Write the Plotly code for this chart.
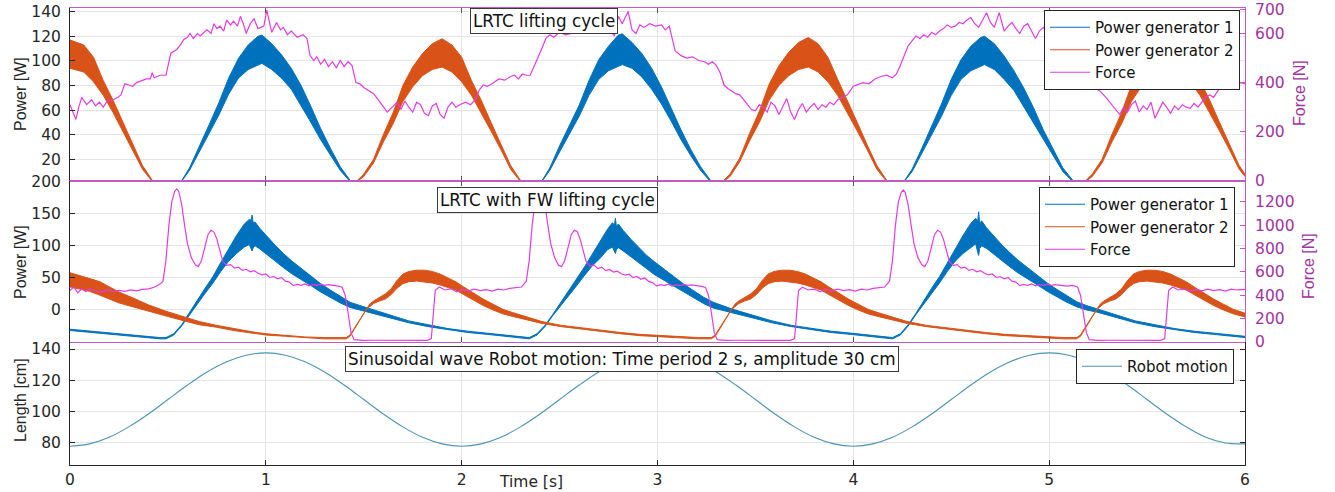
import plotly.graph_objects as go

# ---------------- data ----------------
# Top panel "LRTC lifting cycle": power bands (t [s], upper W, lower W)
top_gen1 = [
    (0.00, 0, 0),
    (0.56, 0, 0), (0.61, 13, 11), (0.66, 30, 26), (0.71, 48, 41), (0.76, 66, 56), (0.81, 86, 73),
    (0.86, 102, 86), (0.91, 113, 93), (0.96, 120, 97), (0.98, 121, 98), (1.03, 114, 93), (1.08, 105, 86),
    (1.13, 94, 77), (1.18, 80, 64), (1.23, 63, 50), (1.28, 45, 36), (1.33, 29, 23), (1.38, 14, 11),
    (1.43, 3, 2), (1.45, 0, 0),
    (2.40, 0, 0), (2.45, 13, 11), (2.50, 31, 26), (2.55, 47, 40), (2.60, 64, 55), (2.65, 84, 72),
    (2.70, 101, 85), (2.75, 112, 92), (2.80, 121, 96), (2.82, 122, 97), (2.87, 115, 94), (2.92, 106, 87),
    (2.97, 94, 77), (3.02, 79, 65), (3.07, 61, 51), (3.12, 44, 36), (3.17, 28, 23), (3.22, 14, 11),
    (3.27, 3, 2), (3.29, 0, 0),
    (4.25, 0, 0), (4.30, 12, 10), (4.35, 29, 25), (4.40, 47, 40), (4.45, 65, 55), (4.50, 85, 72),
    (4.55, 101, 85), (4.60, 112, 92), (4.65, 119, 96), (4.67, 120, 97), (4.72, 114, 93), (4.77, 104, 85),
    (4.82, 92, 76), (4.87, 78, 63), (4.92, 62, 50), (4.97, 44, 36), (5.02, 28, 23), (5.07, 13, 10),
    (5.12, 3, 2), (5.14, 0, 0),
    (6.00, 0, 0),
]
top_gen2 = [
    (0.00, 117, 94), (0.07, 113, 91), (0.12, 103, 83), (0.17, 84, 72), (0.22, 68, 58), (0.27, 50, 43),
    (0.32, 32, 28), (0.37, 15, 12), (0.42, 3, 2), (0.44, 0, 0),
    (1.45, 0, 0), (1.50, 8, 6), (1.55, 20, 17), (1.60, 40, 34), (1.65, 58, 49), (1.70, 80, 67),
    (1.75, 95, 79), (1.80, 106, 88), (1.85, 114, 93), (1.90, 118, 95), (1.95, 113, 91), (2.00, 103, 83),
    (2.05, 84, 72), (2.10, 68, 58), (2.15, 50, 43), (2.20, 32, 28), (2.25, 15, 12), (2.30, 3, 2),
    (2.32, 0, 0),
    (3.32, 0, 0), (3.37, 8, 6), (3.42, 21, 18), (3.47, 41, 35), (3.52, 59, 50), (3.57, 81, 68),
    (3.62, 96, 80), (3.67, 107, 88), (3.72, 115, 93), (3.77, 119, 95), (3.82, 114, 91), (3.87, 103, 83),
    (3.92, 85, 72), (3.97, 68, 58), (4.02, 50, 43), (4.07, 32, 28), (4.12, 15, 12), (4.17, 3, 2),
    (4.19, 0, 0),
    (5.17, 0, 0), (5.22, 8, 6), (5.27, 20, 17), (5.32, 40, 34), (5.37, 58, 49), (5.42, 80, 67),
    (5.47, 95, 79), (5.52, 106, 88), (5.57, 114, 93), (5.62, 118, 95), (5.67, 113, 91), (5.72, 103, 83),
    (5.77, 84, 72), (5.82, 68, 58), (5.87, 50, 43), (5.92, 32, 28), (5.97, 15, 12), (6.00, 8, 6),
]
# Top panel force (t [s], N)
top_force = [
    (0.00, 311), (0.015, 281), (0.03, 251), (0.045, 301), (0.06, 341), (0.085, 311), (0.11, 331),
    (0.13, 306), (0.15, 321), (0.17, 301), (0.19, 326), (0.22, 331), (0.245, 341), (0.26, 351),
    (0.28, 396), (0.30, 391), (0.32, 386), (0.34, 401), (0.36, 406), (0.39, 416), (0.41, 416),
    (0.42, 441), (0.43, 421), (0.46, 431), (0.49, 431), (0.50, 466), (0.515, 521), (0.545, 536),
    (0.565, 556), (0.58, 576), (0.60, 586), (0.613, 601), (0.63, 581), (0.65, 601), (0.665, 591),
    (0.685, 606), (0.70, 616), (0.72, 601), (0.735, 641), (0.75, 621), (0.766, 631), (0.785, 611),
    (0.80, 656), (0.82, 636), (0.835, 651), (0.855, 631), (0.87, 671), (0.885, 641), (0.90, 601),
    (0.92, 641), (0.94, 661), (0.96, 621), (0.99, 631), (1.005, 696), (1.03, 606), (1.055, 646),
    (1.075, 616), (1.09, 626), (1.11, 596), (1.13, 611), (1.16, 586), (1.19, 596), (1.21, 581),
    (1.226, 511), (1.245, 491), (1.26, 506), (1.28, 476), (1.30, 496), (1.32, 466), (1.34, 486),
    (1.36, 461), (1.38, 491), (1.40, 466), (1.42, 486), (1.44, 471), (1.46, 401), (1.48, 396),
    (1.50, 381), (1.53, 366), (1.55, 356), (1.57, 336), (1.60, 301), (1.62, 281), (1.645, 301),
    (1.67, 321), (1.69, 291), (1.71, 326), (1.73, 301), (1.75, 281), (1.77, 321), (1.79, 311),
    (1.81, 276), (1.83, 266), (1.85, 306), (1.87, 316), (1.89, 271), (1.91, 256), (1.93, 301),
    (1.95, 321), (1.97, 301), (1.99, 311), (2.02, 321), (2.045, 311), (2.07, 331), (2.09, 371),
    (2.11, 391), (2.13, 386), (2.155, 396), (2.175, 406), (2.19, 416), (2.22, 411), (2.25, 426),
    (2.27, 431), (2.29, 416), (2.31, 436), (2.33, 431), (2.35, 431), (2.37, 466), (2.39, 501),
    (2.41, 541), (2.43, 581), (2.45, 596), (2.47, 586), (2.50, 606), (2.53, 596), (2.56, 601),
    (2.59, 626), (2.62, 621), (2.64, 641), (2.66, 631), (2.68, 651), (2.70, 661), (2.72, 646),
    (2.74, 686), (2.76, 611), (2.78, 591), (2.80, 671), (2.82, 641), (2.85, 691), (2.87, 616),
    (2.89, 601), (2.91, 636), (2.93, 626), (2.96, 641), (2.99, 631), (3.02, 636), (3.04, 616),
    (3.06, 631), (3.09, 531), (3.12, 511), (3.15, 501), (3.18, 506), (3.21, 491), (3.24, 486),
    (3.26, 476), (3.28, 486), (3.30, 471), (3.32, 441), (3.34, 391), (3.36, 376), (3.38, 366),
    (3.40, 356), (3.42, 351), (3.44, 331), (3.46, 311), (3.48, 291), (3.50, 286), (3.52, 311),
    (3.54, 301), (3.56, 281), (3.58, 321), (3.60, 306), (3.62, 271), (3.64, 306), (3.66, 336),
    (3.68, 281), (3.70, 251), (3.72, 291), (3.74, 316), (3.76, 281), (3.78, 301), (3.80, 316),
    (3.82, 291), (3.84, 311), (3.86, 301), (3.88, 321), (3.90, 311), (3.92, 331), (3.95, 341),
    (3.97, 351), (4.00, 386), (4.02, 391), (4.05, 401), (4.08, 396), (4.11, 416), (4.14, 426),
    (4.17, 431), (4.20, 421), (4.22, 436), (4.24, 471), (4.26, 511), (4.28, 551), (4.30, 571),
    (4.32, 591), (4.34, 581), (4.36, 596), (4.38, 586), (4.40, 606), (4.42, 596), (4.44, 611),
    (4.46, 621), (4.48, 636), (4.50, 626), (4.52, 631), (4.54, 646), (4.56, 641), (4.58, 656),
    (4.60, 666), (4.62, 641), (4.64, 626), (4.66, 656), (4.68, 686), (4.70, 646), (4.72, 626),
    (4.745, 686), (4.77, 611), (4.79, 631), (4.81, 646), (4.83, 621), (4.85, 601), (4.87, 631),
    (4.89, 641), (4.91, 611), (4.93, 581), (4.95, 611), (4.97, 626), (5.00, 601), (5.03, 541),
    (5.06, 511), (5.09, 471), (5.12, 461), (5.15, 456), (5.18, 431), (5.21, 391), (5.24, 376),
    (5.26, 366), (5.29, 341), (5.32, 311), (5.34, 291), (5.36, 271), (5.38, 301), (5.40, 281),
    (5.42, 311), (5.44, 326), (5.46, 281), (5.48, 306), (5.50, 291), (5.52, 321), (5.54, 256),
    (5.56, 291), (5.58, 321), (5.60, 301), (5.62, 276), (5.64, 306), (5.66, 291), (5.68, 311),
    (5.70, 301), (5.72, 296), (5.74, 316), (5.76, 301), (5.78, 321), (5.80, 341), (5.82, 351),
    (5.84, 341), (5.86, 366), (5.88, 386), (5.90, 391), (5.92, 381), (5.94, 396), (5.96, 391),
    (5.98, 401), (6.00, 396),
]

# Middle panel "LRTC with FW lifting cycle": power bands (t, upper, lower)
mid_gen1 = [
    (0.00, -30, -32), (0.10, -33, -35), (0.20, -36, -38), (0.30, -39, -41), (0.40, -41.5, -43.5),
    (0.46, -43, -45),
    (0.49, -43, -45), (0.53, -37, -39), (0.57, -23, -25), (0.61, -5, -7), (0.65, 15, 9), (0.69, 34, 26),
    (0.73, 52, 42), (0.77, 74, 60), (0.81, 96, 76), (0.85, 116, 88), (0.89, 134, 98), (0.915, 141, 102),
    (0.925, 140, 96), (0.93, 148, 92), (0.935, 136, 97), (0.945, 137, 100), (0.97, 127, 95),
    (1.01, 113, 85), (1.05, 100, 76), (1.09, 88, 66), (1.13, 77, 57), (1.18, 65, 48), (1.23, 53, 38),
    (1.28, 41, 28), (1.33, 31, 19), (1.38, 21, 11), (1.43, 12, 4), (1.48, 7, 0), (1.53, 2, -3),
    (1.63, -7, -11), (1.73, -17, -20), (1.83, -23, -26), (1.93, -29, -31), (2.03, -33, -35),
    (2.13, -36, -38), (2.23, -39, -41), (2.33, -42, -44),
    (2.345, -43, -45), (2.385, -37, -39), (2.425, -24, -26), (2.465, -7, -9), (2.505, 11, 6),
    (2.545, 29, 22), (2.585, 46, 37), (2.625, 66, 53), (2.665, 86, 68), (2.705, 106, 80),
    (2.745, 126, 94), (2.77, 136, 98), (2.78, 132, 92), (2.785, 143, 88), (2.79, 130, 94),
    (2.80, 134, 97), (2.825, 124, 92), (2.865, 110, 83), (2.905, 97, 74), (2.945, 85, 64),
    (2.985, 75, 55), (3.035, 63, 46), (3.085, 51, 37), (3.135, 40, 27), (3.185, 30, 18),
    (3.235, 20, 10), (3.285, 12, 3), (3.335, 6, -1), (3.385, 1, -4), (3.485, -8, -12),
    (3.585, -17, -20), (3.685, -24, -26), (3.785, -29, -31), (3.885, -33, -35), (3.985, -36, -38),
    (4.085, -39, -41), (4.185, -42, -44),
    (4.20, -43, -45), (4.24, -37, -39), (4.28, -23, -25), (4.32, -5, -7), (4.36, 15, 9), (4.40, 34, 26),
    (4.44, 52, 42), (4.48, 74, 60), (4.52, 96, 76), (4.56, 116, 88), (4.60, 135, 98), (4.625, 143, 103),
    (4.635, 138, 90), (4.64, 153, 85), (4.645, 134, 96), (4.655, 139, 100), (4.68, 128, 96),
    (4.72, 114, 86), (4.76, 101, 77), (4.80, 89, 67), (4.84, 78, 58), (4.89, 66, 49), (4.94, 54, 39),
    (4.99, 42, 29), (5.04, 32, 20), (5.09, 22, 12), (5.14, 13, 5), (5.19, 7, 0), (5.24, 2, -3),
    (5.34, -7, -11), (5.44, -17, -20), (5.54, -23, -26), (5.64, -29, -31), (5.74, -33, -35),
    (5.84, -36, -38), (5.94, -39, -41), (6.00, -41, -43),
]
mid_gen2 = [
    (0.00, 58, 36), (0.05, 54, 33), (0.10, 49, 29), (0.153, 44, 23), (0.20, 36, 17), (0.25, 28, 11),
    (0.32, 19, 5), (0.40, 8, -2), (0.49, -2, -10), (0.57, -10, -16), (0.66, -18, -23), (0.75, -24, -27),
    (0.835, -29, -32), (0.93, -34, -36), (1.00, -37, -39), (1.10, -40, -41), (1.20, -42, -43),
    (1.30, -43, -45),
    (1.41, -43, -45), (1.43, -39, -41), (1.45, -29, -31), (1.47, -19, -21), (1.49, -9, -11), (1.51, 1, -1),
    (1.53, 9, 5), (1.55, 14, 10), (1.58, 20, 14), (1.61, 25, 17), (1.64, 33, 24), (1.67, 46, 34),
    (1.70, 56, 41), (1.73, 60, 44), (1.77, 62, 45), (1.81, 62, 44), (1.85, 60, 42), (1.89, 56, 39),
    (1.93, 50, 35), (1.97, 44, 31), (2.01, 36, 24), (2.06, 26, 15), (2.11, 17, 7), (2.16, 9, 0),
    (2.21, 1, -6), (2.26, -4, -10), (2.31, -9, -14), (2.36, -13, -17), (2.41, -18, -21),
    (2.51, -24, -26), (2.61, -28, -30), (2.71, -32, -34), (2.81, -35, -37), (2.91, -38, -40),
    (3.01, -40, -42), (3.11, -42, -44), (3.21, -43, -45),
    (3.275, -43, -45), (3.295, -39, -41), (3.315, -29, -31), (3.335, -19, -21), (3.355, -9, -11),
    (3.375, 1, -1), (3.395, 9, 5), (3.415, 14, 10), (3.445, 20, 14), (3.475, 25, 17), (3.505, 33, 24),
    (3.535, 46, 34), (3.565, 56, 41), (3.595, 60, 44), (3.635, 62, 45), (3.675, 62, 44),
    (3.715, 60, 42), (3.755, 56, 39), (3.795, 50, 35), (3.835, 44, 31), (3.875, 36, 24),
    (3.925, 26, 15), (3.975, 17, 7), (4.025, 9, 0), (4.075, 1, -6), (4.125, -4, -10), (4.175, -9, -14),
    (4.225, -13, -17), (4.275, -18, -21), (4.375, -24, -26), (4.475, -28, -30), (4.575, -32, -34),
    (4.675, -35, -37), (4.775, -38, -40), (4.875, -40, -42), (4.975, -42, -44), (5.075, -43, -45),
    (5.14, -43, -45), (5.16, -39, -41), (5.18, -29, -31), (5.20, -19, -21), (5.22, -9, -11),
    (5.24, 1, -1), (5.26, 9, 5), (5.28, 14, 10), (5.31, 20, 14), (5.34, 25, 17), (5.37, 33, 24),
    (5.40, 46, 34), (5.43, 56, 41), (5.46, 60, 44), (5.50, 62, 45), (5.54, 62, 44), (5.58, 60, 42),
    (5.62, 56, 39), (5.66, 50, 35), (5.70, 44, 31), (5.74, 36, 24), (5.79, 26, 15), (5.84, 17, 7),
    (5.89, 9, 0), (5.94, 1, -6), (5.99, -4, -10), (6.00, -5, -11),
]
# Middle panel force (t, N)
mid_force = [
    (0.00, 440), (0.02, 470), (0.04, 420), (0.06, 455), (0.08, 432), (0.10, 452), (0.13, 438),
    (0.16, 425), (0.19, 447), (0.22, 430), (0.25, 442), (0.28, 433), (0.31, 446), (0.34, 438),
    (0.37, 450), (0.40, 455), (0.43, 468), (0.46, 495),
    (0.475, 520), (0.49, 700), (0.505, 1000), (0.52, 1200), (0.535, 1290), (0.545, 1310), (0.555, 1290),
    (0.57, 1180), (0.585, 1000), (0.60, 840), (0.62, 720), (0.64, 660), (0.655, 645), (0.67, 690),
    (0.69, 820), (0.705, 920), (0.72, 955), (0.735, 940), (0.75, 880), (0.765, 780), (0.78, 690),
    (0.80, 655), (0.82, 662), (0.84, 632), (0.86, 640), (0.88, 612), (0.90, 622), (0.92, 600),
    (0.94, 610), (0.96, 588), (0.98, 575), (1.00, 582), (1.02, 552), (1.04, 560), (1.06, 540),
    (1.08, 553), (1.10, 520), (1.12, 512), (1.14, 482), (1.16, 492), (1.18, 484), (1.20, 496),
    (1.22, 480), (1.24, 490), (1.26, 484), (1.28, 494), (1.30, 485), (1.32, 490), (1.345, 486),
    (1.37, 478), (1.39, 468), (1.405, 400), (1.42, 250), (1.435, 80), (1.45, 20), (1.495, 14),
    (1.545, 15), (1.645, 13), (1.745, 16), (1.825, 14), (1.845, 30), (1.855, 250), (1.865, 440),
    (1.885, 470), (1.915, 445), (1.945, 455), (1.975, 430), (2.005, 450), (2.035, 438), (2.065, 452),
    (2.095, 440), (2.125, 448), (2.155, 436), (2.185, 452), (2.215, 445), (2.245, 458), (2.275, 462),
    (2.305, 470),
    (2.33, 520), (2.345, 700), (2.36, 1000), (2.375, 1200), (2.39, 1290), (2.40, 1315), (2.41, 1290),
    (2.425, 1180), (2.44, 1000), (2.455, 840), (2.475, 720), (2.495, 655), (2.51, 645), (2.525, 690),
    (2.545, 820), (2.56, 920), (2.575, 955), (2.59, 945), (2.605, 880), (2.62, 780), (2.635, 690),
    (2.655, 650), (2.675, 660), (2.695, 628), (2.715, 640), (2.735, 610), (2.755, 620), (2.775, 598),
    (2.795, 606), (2.815, 584), (2.835, 572), (2.855, 580), (2.875, 550), (2.895, 560), (2.915, 536),
    (2.935, 548), (2.955, 518), (2.975, 508), (2.995, 480), (3.015, 490), (3.035, 482), (3.055, 494),
    (3.075, 478), (3.095, 488), (3.115, 482), (3.135, 492), (3.155, 484), (3.175, 488), (3.20, 484),
    (3.225, 476), (3.245, 466), (3.26, 400), (3.275, 250), (3.29, 80), (3.305, 20), (3.35, 14),
    (3.40, 15), (3.50, 13), (3.60, 16), (3.68, 14), (3.70, 30), (3.71, 250), (3.72, 440), (3.74, 468),
    (3.77, 445), (3.80, 452), (3.83, 432), (3.86, 450), (3.89, 438), (3.92, 452), (3.95, 440),
    (3.98, 448), (4.01, 436), (4.04, 452), (4.07, 445), (4.10, 458), (4.13, 462), (4.16, 470),
    (4.185, 520), (4.20, 700), (4.215, 1000), (4.23, 1200), (4.245, 1280), (4.255, 1300), (4.265, 1280),
    (4.28, 1170), (4.295, 1000), (4.31, 840), (4.33, 720), (4.35, 660), (4.365, 645), (4.38, 690),
    (4.40, 820), (4.415, 920), (4.43, 955), (4.445, 940), (4.46, 880), (4.475, 780), (4.49, 690),
    (4.51, 655), (4.53, 662), (4.55, 632), (4.57, 640), (4.59, 612), (4.61, 622), (4.63, 600),
    (4.65, 610), (4.67, 588), (4.69, 575), (4.71, 582), (4.73, 552), (4.75, 560), (4.77, 540),
    (4.79, 553), (4.81, 520), (4.83, 512), (4.85, 482), (4.87, 492), (4.89, 484), (4.91, 496),
    (4.93, 480), (4.95, 490), (4.97, 484), (4.99, 494), (5.01, 485), (5.03, 490), (5.06, 486),
    (5.09, 478), (5.12, 484), (5.145, 470), (5.16, 400), (5.175, 250), (5.19, 80), (5.205, 20),
    (5.25, 14), (5.30, 15), (5.40, 13), (5.50, 16), (5.57, 14), (5.59, 30), (5.60, 250), (5.61, 440),
    (5.63, 470), (5.66, 445), (5.69, 455), (5.72, 430), (5.75, 450), (5.78, 438), (5.81, 452),
    (5.84, 440), (5.87, 448), (5.90, 436), (5.93, 452), (5.96, 445), (6.00, 450),
]

# Bottom panel: robot motion (t, cm)
robot_t = [round(0.1 * i, 1) for i in range(61)]
robot_len = [
    77.5, 79.0, 83.2, 89.9, 98.2, 107.5, 116.8, 125.2, 131.8, 136.0, 137.5,
    136.0, 131.8, 125.2, 116.8, 107.5, 98.2, 89.9, 83.2, 79.0, 77.5,
    79.0, 83.2, 89.9, 98.2, 107.5, 116.8, 125.2, 131.8, 136.0, 137.5,
    136.0, 131.8, 125.2, 116.8, 107.5, 98.2, 89.9, 83.2, 79.0, 77.5,
    79.0, 83.2, 89.9, 98.2, 107.5, 116.8, 125.2, 131.8, 136.0, 137.5,
    136.0, 131.8, 125.2, 116.8, 107.5, 98.2, 89.9, 83.2, 79.5, 79.0,
]

x_ticks = [0, 1, 2, 3, 4, 5, 6]
top_power_ticks = [20, 40, 60, 80, 100, 120, 140]
top_force_ticks = [0, 200, 400, 600, 700]
mid_power_ticks = [0, 50, 100, 150, 200]
mid_force_ticks = [0, 200, 400, 600, 800, 1000, 1200]
len_ticks = [80, 100, 120, 140]

# ---------------- styling ----------------
W, H = 1335, 492
ML, MR, MT, MB = 70, 90, 8, 27
PW, PH = W - ML - MR, H - MT - MB


def px(x):
    return (x - ML) / PW


def py(y):
    return (H - MB - y) / PH


FONT_H = "DejaVu Sans, Liberation Sans, Arial, sans-serif"
FONT_V = "Liberation Sans, Arial, sans-serif"
TXT = "#262626"
BLUE = "#0072BD"
ORANGE = "#D95319"
FORCE = "#E23CE2"
MAG_AX = "#C25AC2"
PURP = "#A232A2"
GRID = "#E4E4E4"
ROBOT = "#4A93B4"
FS_TICK = 15.5
FS_LEG = 15

fig = go.Figure()


def band(data, color, name, xa, ya, legend):
    t = [d[0] for d in data]
    hi = [d[1] for d in data]
    lo = [d[2] for d in data]
    fig.add_trace(go.Scatter(x=t, y=lo, mode="lines", line=dict(color=color, width=1),
                             name=name, legend=legend, xaxis=xa, yaxis=ya, hoverinfo="skip"))
    fig.add_trace(go.Scatter(x=t, y=hi, mode="lines", line=dict(color=color, width=1),
                             fill="tonexty", fillcolor=color, showlegend=False,
                             xaxis=xa, yaxis=ya, hoverinfo="skip"))


def line(data, color, name, xa, ya, legend, width=1.2):
    fig.add_trace(go.Scatter(x=[d[0] for d in data], y=[d[1] for d in data], mode="lines",
                             line=dict(color=color, width=width), name=name, legend=legend,
                             xaxis=xa, yaxis=ya, hoverinfo="skip"))


band(top_gen1, BLUE, "Power generator 1", "x", "y", "legend")
band(top_gen2, ORANGE, "Power generator 2", "x", "y", "legend")
line(top_force, FORCE, "Force", "x", "y2", "legend")

band(mid_gen1, BLUE, "Power generator 1", "x2", "y3", "legend2")
band(mid_gen2, ORANGE, "Power generator 2", "x2", "y3", "legend2")
line(mid_force, FORCE, "Force", "x2", "y4", "legend2")

fig.add_trace(go.Scatter(x=robot_t, y=robot_len, mode="lines", line=dict(color=ROBOT, width=1.1, shape="spline"),
                         name="Robot motion", legend="legend3", xaxis="x3", yaxis="y5", hoverinfo="skip"))

d_bot = [0, py(342)]
d_mid = [py(342), py(181)]
d_top = [py(181), 1]

xcommon = dict(range=[0, 6], tickvals=x_ticks, showgrid=True, gridcolor=GRID, zeroline=False,
               showline=True, ticks="inside", ticklen=5, domain=[0, 1],
               automargin=False, tickfont=dict(size=FS_TICK, color=TXT, family=FONT_H))
ycommon = dict(showgrid=True, gridcolor=GRID, zeroline=False, showline=True, ticks="inside",
               ticklen=5, tickfont=dict(size=FS_TICK, color=TXT, family=FONT_H), linecolor=TXT,
               tickcolor=TXT, ticklabelstandoff=5, automargin=False)
yright = dict(showgrid=False, zeroline=False, showline=True, ticks="inside", ticklen=5,
              linecolor=MAG_AX, tickcolor=MAG_AX, side="right", automargin=False,
              tickfont=dict(size=FS_TICK, color=PURP, family=FONT_H), ticklabelstandoff=6)

legend_common = dict(bgcolor="white", bordercolor=TXT, borderwidth=1, xanchor="right", yanchor="top",
                     font=dict(size=FS_LEG, color="#111111", family=FONT_H), itemwidth=40,
                     tracegroupgap=0, itemclick=False, traceorder="normal")

fig.update_layout(
    width=W, height=H, margin=dict(l=ML, r=MR, t=MT, b=MB, pad=0, autoexpand=False),
    paper_bgcolor="white", plot_bgcolor="white", hovermode=False,
    font=dict(family=FONT_H, color=TXT),
    xaxis=dict(**xcommon, anchor="y", mirror="ticks", showticklabels=False, linecolor=MAG_AX,
               tickcolor="#555555"),
    xaxis2=dict(**xcommon, anchor="y3", mirror="ticks", showticklabels=False, linecolor=MAG_AX,
                tickcolor="#555555"),
    xaxis3=dict(**xcommon, anchor="y5", mirror=False, showticklabels=True, linecolor=TXT, tickcolor=TXT,
                ticklabelstandoff=0),
    yaxis=dict(**ycommon, domain=d_top, anchor="x", range=[2.4, 143], tickvals=top_power_ticks),
    yaxis2=dict(**yright, overlaying="y", anchor="x", range=[0, 705], tickvals=top_force_ticks),
    yaxis3=dict(**ycommon, domain=d_mid, anchor="x2", range=[-49.9, 201], tickvals=mid_power_ticks),
    yaxis4=dict(**yright, overlaying="y3", anchor="x2", range=[0, 1377], tickvals=mid_force_ticks),
    yaxis5=dict(**ycommon, domain=d_bot, anchor="x3", range=[65.4, 144.5], tickvals=len_ticks,
                mirror="ticks"),
    legend=dict(**legend_common, x=px(1240), y=py(10)),
    legend2=dict(**legend_common, x=px(1235), y=py(187)),
    legend3=dict(**legend_common, x=px(1234), y=py(349)),
    showlegend=True,
)

box = dict(showarrow=False, xref="paper", yref="paper", xanchor="center", yanchor="middle",
           bgcolor="white", bordercolor="#3a3a3a", borderwidth=1, borderpad=2,
           font=dict(size=16.8, color="#111111", family=FONT_H))
fig.add_annotation(text="LRTC lifting cycle", x=px(544), y=py(20.5), **box)
fig.add_annotation(text="LRTC with FW lifting cycle", x=px(547), y=py(200.5), **box)
fig.add_annotation(text="Sinusoidal wave Robot motion: Time period 2 s, amplitude 30 cm",
                   x=px(622), y=py(359.5), **box)

lab = dict(showarrow=False, xref="paper", yref="paper", xanchor="center", yanchor="middle",
           font=dict(size=16, color=TXT, family=FONT_V))
fig.add_annotation(text="Power [W]", x=px(20), y=py(94), textangle=-90, **lab)
fig.add_annotation(text="Power [W]", x=px(20), y=py(262), textangle=-90, **lab)
fig.add_annotation(text="Length [cm]", x=px(20), y=py(400), textangle=-90, **lab)
fig.add_annotation(text="Time [s]", x=px(531), y=py(482), showarrow=False, xref="paper", yref="paper",
                   xanchor="center", yanchor="middle", font=dict(size=15.5, color=TXT, family=FONT_H))
labp = dict(showarrow=False, xref="paper", yref="paper", xanchor="center", yanchor="middle",
            font=dict(size=16, color=PURP, family=FONT_V))
fig.add_annotation(text="Force [N]", x=px(1300), y=py(93), textangle=-90, **labp)
fig.add_annotation(text="Force [N]", x=px(1308), y=py(266), textangle=-90, **labp)

fig.write_html("out.html", config={"displayModeBar": False})
